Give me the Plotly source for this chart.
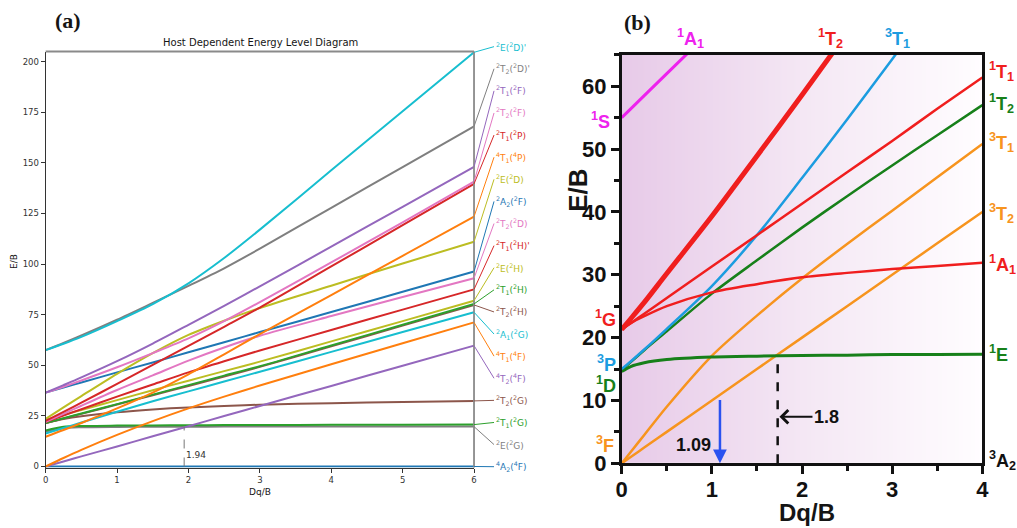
import numpy as np
import plotly.graph_objects as go

# ---------------- Panel (a) data ----------------
xa = [0, 0.25, 0.5, 1, 1.5, 2, 2.5, 3, 4, 5, 6]
a_E_Dp   = [57.5, 60.6, 64, 71.8, 80.2, 90.5, 103, 117, 146.3, 175.5, 204.6]
a_T2_Dp  = [57.5, 61, 64.7, 72.5, 80.8, 89.2, 97.9, 107.6, 127.8, 147.9, 168]
a_T1_F   = [36.5, 40.2, 44, 52, 60.7, 70, 79.4, 89, 108.6, 128.3, 148]
a_T2_F   = [36.5, 39.4, 42.5, 49, 56, 63.3, 71.8, 81.2, 100.8, 120.6, 140.7]
a_T1_P   = [22.5, 27, 31.5, 40.8, 50.2, 59.6, 69, 78.5, 98.8, 119.2, 139.6]
a_T1_4P  = [14.7, 18, 21.5, 28.7, 36.5, 45.5, 55.4, 65.4, 84.7, 104.1, 123.4]
a_E_D    = [23.5, 29.2, 34.8, 45.8, 56, 65, 72, 78.3, 89.3, 100.3, 111]
a_A2_F   = [36.5, 39, 41.5, 46.5, 51.4, 56.4, 61.4, 66.4, 76.3, 86.3, 96.3]
a_T2_D   = [22, 26, 30, 37.8, 45, 52.3, 58.8, 64.6, 74.3, 83.7, 93]
a_T1_Hp  = [22, 25.2, 28.3, 34.5, 40.5, 46.5, 52, 57.3, 67.4, 77.5, 87.5]
a_E_H    = [23, 25.5, 27.9, 32.8, 37.7, 42.4, 47.1, 51.8, 61.8, 71.8, 81.9]
a_T1_H   = [21.5, 23.8, 26.2, 30.8, 35.5, 40.2, 44.9, 49.5, 59.8, 70, 80.3]
a_T2_H   = [21.5, 23.7, 26, 30.6, 35.2, 39.8, 44.4, 49.2, 59.4, 69.6, 79.8]
a_A1_G   = [16.3, 19, 21.7, 27, 32.2, 37.1, 42, 46.8, 56.6, 66.4, 76.2]
a_T1_4F  = [0, 4.2, 8.2, 15.6, 22.4, 28.7, 34.5, 40, 50.5, 60.9, 71.2]
a_T2_4F  = [0, 2.5, 5, 9.9, 14.9, 19.9, 24.9, 29.9, 39.8, 49.8, 59.7]
a_T2_G   = [21.5, 23.4, 24.8, 26.8, 28.2, 29.2, 29.9, 30.5, 31.3, 31.9, 32.4]
a_T1_G   = [17.8, 19.6, 20, 20.2, 20.3, 20.4, 20.45, 20.5, 20.6, 20.65, 20.7]
a_E_G    = [17.3, 19.0, 19.4, 19.55, 19.6, 19.65, 19.7, 19.7, 19.7, 19.7, 19.7]
a_A2_4F  = [0, 0, 0, 0, 0, 0, 0, 0, 0, 0, 0]

a_labels = ["<sup>2</sup>E(<sup>2</sup>D)'", "<sup>2</sup>T<sub>2</sub>(<sup>2</sup>D)'",
            "<sup>2</sup>T<sub>1</sub>(<sup>2</sup>F)", "<sup>2</sup>T<sub>2</sub>(<sup>2</sup>F)",
            "<sup>2</sup>T<sub>1</sub>(<sup>2</sup>P)", "<sup>4</sup>T<sub>1</sub>(<sup>4</sup>P)",
            "<sup>2</sup>E(<sup>2</sup>D)", "<sup>2</sup>A<sub>2</sub>(<sup>2</sup>F)",
            "<sup>2</sup>T<sub>2</sub>(<sup>2</sup>D)", "<sup>2</sup>T<sub>1</sub>(<sup>2</sup>H)'",
            "<sup>2</sup>E(<sup>2</sup>H)", "<sup>2</sup>T<sub>1</sub>(<sup>2</sup>H)",
            "<sup>2</sup>T<sub>2</sub>(<sup>2</sup>H)", "<sup>2</sup>A<sub>1</sub>(<sup>2</sup>G)",
            "<sup>4</sup>T<sub>1</sub>(<sup>4</sup>F)", "<sup>4</sup>T<sub>2</sub>(<sup>4</sup>F)",
            "<sup>2</sup>T<sub>2</sub>(<sup>2</sup>G)", "<sup>2</sup>T<sub>1</sub>(<sup>2</sup>G)",
            "<sup>2</sup>E(<sup>2</sup>G)", "<sup>4</sup>A<sub>2</sub>(<sup>4</sup>F)"]
a_values = [a_E_Dp, a_T2_Dp, a_T1_F, a_T2_F, a_T1_P, a_T1_4P, a_E_D, a_A2_F, a_T2_D, a_T1_Hp,
            a_E_H, a_T1_H, a_T2_H, a_A1_G, a_T1_4F, a_T2_4F, a_T2_G, a_T1_G, a_E_G, a_A2_4F]
a_colors = ["#17becf", "#7f7f7f", "#9467bd", "#e377c2", "#d62728", "#ff7f0e", "#bcbd22", "#1f77b4",
            "#e377c2", "#d62728", "#bcbd22", "#2ca02c", "#8c564b", "#17becf", "#ff7f0e", "#9467bd",
            "#8c564b", "#2ca02c", "#7f7f7f", "#1f77b4"]
a_cross_x = 1.94
a_cross_y = 19.6

# ---------------- Panel (b) data ----------------
xb = [0, 0.1, 0.25, 0.5, 1, 1.5, 2, 2.5, 3, 3.5, 4]
b_1A1_S  = [55, 56.4, 58.5, 62, 69, None, None, None, None, None, None]
b_1T2_r  = [21.3, 23.0, 25.6, 30.2, 39.3, 48.9, 58.6, 68.5, None, None, None]
b_3T1_P  = [15, 16.2, 18.1, 21.4, 28.2, 36.3, 45.4, 54.7, 64.3, 74, None]
b_1T1    = [21.3, 22.3, 23.8, 26.3, 31.3, 36.3, 41.3, 46.3, 51.3, 56.4, 61.4]
b_1T2_g  = [14.8, 16.1, 18, 21, 27, 32.3, 37.5, 42.5, 47.4, 52.2, 57]
b_1A1    = [21.3, 22.3, 23.4, 25, 27.2, 28.5, 29.6, 30.3, 30.9, 31.4, 31.9]
b_1E     = [14.6, 15.4, 16, 16.5, 16.9, 17.05, 17.15, 17.2, 17.3, 17.3, 17.35]
b_3T1_F  = [0, 1.8, 4.5, 9, 17.1, 23.5, 29.4, 34.9, 40.2, 45.5, 50.8]
b_3T2    = [0, 1, 2.5, 5, 10, 15, 20, 25, 30, 35, 40]
b_cross_x = 1.73
b_cross_y = 17.2
b_arrow_x = 1.09

MAG, RED, BLU, GRN, ORG = "#EE22EE", "#F01E1E", "#1C9CE0", "#17801A", "#F7941E"
b_series = [(b_1A1_S, MAG, 3), (b_3T2, ORG, 2.5), (b_3T1_F, ORG, 2.5), (b_1E, GRN, 3),
            (b_1T2_g, GRN, 2.5), (b_3T1_P, BLU, 2.5), (b_1A1, RED, 2.5), (b_1T1, RED, 2.5),
            (b_1T2_r, RED, 5)]

fig = go.Figure()

# gradient background of panel (b)
fig.add_trace(go.Heatmap(x=[0, 4], y=[0, 65], z=[[0, 1], [0, 1]], zsmooth="best",
                         colorscale=[[0, "#E7CAE8"], [0.5, "#F4E7F4"], [1, "#FFFDFF"]],
                         showscale=False, hoverinfo="skip", xaxis="x2", yaxis="y2"))

for vals, col in zip(a_values[::-1], a_colors[::-1]):
    fig.add_trace(go.Scatter(x=xa, y=vals, mode="lines", xaxis="x", yaxis="y",
                             line=dict(color=col, width=2, shape="spline", smoothing=0.8),
                             hoverinfo="skip", showlegend=False))

for vals, col, w in b_series:
    fig.add_trace(go.Scatter(x=xb, y=vals, mode="lines", xaxis="x2", yaxis="y2",
                             line=dict(color=col, width=w, shape="spline", smoothing=0.8),
                             hoverinfo="skip", showlegend=False, connectgaps=False))

ann = []
# panel (a) right-hand labels with leader lines
label_pos = np.linspace(207.4, -0.1, len(a_labels))
for lab, col, vals, ly in zip(a_labels, a_colors, a_values, label_pos):
    ann.append(dict(x=6, y=vals[-1], xref="x", yref="y", text=lab, showarrow=True,
                    axref="pixel", ax=20, ayref="y", ay=float(ly), xanchor="left", yanchor="middle",
                    arrowhead=0, arrowwidth=1, arrowcolor=col, standoff=0,
                    font=dict(family="DejaVu Sans", size=9, color=col)))
ann.append(dict(x=a_cross_x, y=5.5, xref="x", yref="y", text="1.94", showarrow=False,
                xanchor="left", yanchor="middle", font=dict(family="DejaVu Sans", size=9, color="#333")))


def pann(x, y, text, size, family, angle=0):
    return dict(x=x, y=y, xref="paper", yref="paper", text=text, showarrow=False,
                xanchor="center", yanchor="middle", textangle=angle,
                font=dict(family=family, size=size, color="#151515"))


ann += [
    pann(0.2557, 0.9186, "Host Dependent Energy Level Diagram", 10, "DejaVu Sans"),
    pann(0.0138, 0.504, "E/B", 9, "DejaVu Sans", -90),
    pann(0.2557, 0.068, "Dq/B", 9, "DejaVu Sans"),
    pann(0.0669, 0.962, "<b>(a)</b>", 22, "Liberation Serif"),
    pann(0.627, 0.958, "<b>(b)</b>", 22, "Liberation Serif"),
    pann(0.568, 0.640, "<b>E/B</b>", 26, "Liberation Sans", -90),
    pann(0.7935, 0.029, "<b>Dq/B</b>", 24, "Liberation Sans"),
]

bf = "Liberation Sans"


def blab(x, y, text, col, xanchor="left", xshift=0, yshift=0, yanchor="middle", size=18):
    return dict(x=x, y=y, xref="x2", yref="y2", text="<b>" + text + "</b>", showarrow=False,
                xanchor=xanchor, yanchor=yanchor, xshift=xshift, yshift=yshift,
                font=dict(family=bf, size=size, color=col))


ann += [
    blab(4, 62.3, "<sup>1</sup>T<sub>1</sub>", RED, xshift=5),
    blab(4, 57.3, "<sup>1</sup>T<sub>2</sub>", GRN, xshift=5),
    blab(4, 51.0, "<sup>3</sup>T<sub>1</sub>", ORG, xshift=5),
    blab(4, 39.8, "<sup>3</sup>T<sub>2</sub>", ORG, xshift=5),
    blab(4, 31.6, "<sup>1</sup>A<sub>1</sub>", RED, xshift=5),
    blab(4, 17.4, "<sup>1</sup>E", GRN, xshift=5),
    blab(4, 0.5, "<sup>3</sup>A<sub>2</sub>", "#111", xshift=5),
    blab(0.76, 65, "<sup>1</sup>A<sub>1</sub>", MAG, xanchor="center", yanchor="bottom", yshift=2),
    blab(2.32, 65, "<sup>1</sup>T<sub>2</sub>", RED, xanchor="center", yanchor="bottom", yshift=2),
    blab(3.06, 65, "<sup>3</sup>T<sub>1</sub>", BLU, xanchor="center", yanchor="bottom", yshift=2),
    blab(0, 54.6, "<sup>1</sup>S", MAG, xanchor="right", xshift=-10),
    blab(0, 23.0, "<sup>1</sup>G", RED, xanchor="right", xshift=-4),
    blab(0, 15.9, "<sup>3</sup>P", BLU, xanchor="right", xshift=-4),
    blab(0, 12.5, "<sup>1</sup>D", GRN, xanchor="right", xshift=-4),
    blab(0, 3.0, "<sup>3</sup>F", ORG, xanchor="right", xshift=-6),
    blab(1.01, 2.9, "1.09", "#111", xanchor="right", size=18),
    dict(x=b_arrow_x, y=0, xref="x2", yref="y2", axref="x2", ayref="y2", ax=b_arrow_x, ay=10.3,
         text="", showarrow=True, arrowhead=2, arrowsize=1.1, arrowwidth=2.5, arrowcolor="#2A52F0",
         standoff=0),
    dict(x=b_cross_x + 0.02, y=7.4, xref="x2", yref="y2", axref="pixel", ax=33, ayref="pixel", ay=0,
         text="<b>1.8</b>", xanchor="left", yanchor="middle", showarrow=True, arrowhead=4,
         arrowsize=1.3, arrowwidth=2, arrowcolor="#111", standoff=0,
         font=dict(family=bf, size=18, color="#111")),
]

shapes = [
    dict(type="line", xref="x domain", yref="y domain", x0=0, x1=1, y0=1, y1=1,
         line=dict(color="#8a8a8a", width=1.8)),
    dict(type="line", xref="x domain", yref="y domain", x0=1, x1=1, y0=0, y1=1,
         line=dict(color="#8a8a8a", width=1.8)),
    dict(type="line", xref="x", yref="y", x0=a_cross_x, x1=a_cross_x, y0=0, y1=a_cross_y,
         line=dict(color="#777", width=1, dash="dash")),
    dict(type="line", xref="x2", yref="y2", x0=b_cross_x, x1=b_cross_x, y0=0, y1=b_cross_y,
         line=dict(color="#111", width=2.5, dash="dash")),
]

afont = dict(family="DejaVu Sans", size=8.5, color="#333")
fig.update_layout(
    width=1017, height=528, margin=dict(l=0, r=0, t=0, b=0, autoexpand=False),
    paper_bgcolor="white", plot_bgcolor="rgba(0,0,0,0)", showlegend=False,
    xaxis=dict(domain=[0.0449, 0.4661], range=[0, 6], tickvals=[0, 1, 2, 3, 4, 5, 6],
               showline=True, linecolor="#333", linewidth=1.2, ticks="outside", ticklen=4,
               tickcolor="#333", showgrid=False, zeroline=False, tickfont=afont, anchor="y",
               automargin=False),
    yaxis=dict(domain=[0.11458, 0.90246], range=[-0.5, 205], tickvals=[0, 25, 50, 75, 100, 125, 150, 175, 200],
               showline=True, linecolor="#333", linewidth=1.2, ticks="outside", ticklen=4,
               tickcolor="#333", showgrid=False, zeroline=False, tickfont=afont, anchor="x",
               automargin=False),
    xaxis2=dict(domain=[0.6113, 0.9659], range=[0, 4], tickvals=[0, 1, 2, 3, 4],
                showline=True, mirror=True, linecolor="#111", linewidth=2.5, ticks="outside",
                ticklen=8, tickwidth=2.5, tickcolor="#111", showgrid=False, zeroline=False,
                minor=dict(ticks="outside", ticklen=5, tickwidth=2.5, dtick=0.5, tickcolor="#111"),
                tickfont=dict(family=bf, size=22, color="#111", weight="bold"),
                ticklabelstandoff=-3, anchor="y2", automargin=False),
    yaxis2=dict(domain=[0.12254, 0.89621], range=[0, 65], tickvals=[0, 10, 20, 30, 40, 50, 60],
                showline=True, mirror=True, linecolor="#111", linewidth=2.5, ticks="outside",
                ticklen=8, tickwidth=2.5, tickcolor="#111", showgrid=False, zeroline=False,
                minor=dict(ticks="outside", ticklen=5, tickwidth=2.5, dtick=5, tickcolor="#111"),
                tickfont=dict(family=bf, size=22, color="#111", weight="bold"),
                ticklabelstandoff=0, anchor="x2", automargin=False),
    annotations=ann, shapes=shapes,
)

fig.write_html("out.html", config={"displayModeBar": False},
               post_script="document.body.style.margin='0px';")
